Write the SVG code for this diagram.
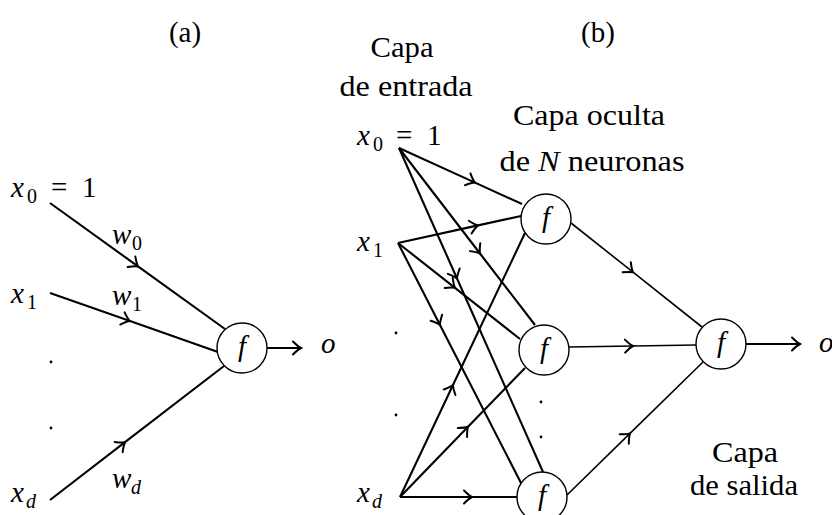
<svg xmlns="http://www.w3.org/2000/svg" width="832" height="515" viewBox="0 0 832 515">
<style>
.t{font-family:"Liberation Serif","Times New Roman",serif;font-size:29px;fill:#000}
.i{font-style:italic}
.s{font-size:20px}
.ln{fill:none;stroke:#000;stroke-width:2.1;marker-mid:url(#ah)}
.ln2{fill:none;stroke:#000;stroke-width:1.6;marker-mid:url(#ah)}
.out{fill:none;stroke:#000;stroke-width:2;marker-end:url(#ah)}
.nd{fill:#fff;stroke:#000;stroke-width:1.4}
.dot{fill:#000}
</style>
<defs>
<marker id="ah" markerUnits="userSpaceOnUse" markerWidth="20" markerHeight="20" viewBox="-10 -10 20 20" refX="0" refY="0" orient="auto" overflow="visible">
<path d="M-8,-6.5 Q-3,-1.5 0,0 Q-3,1.5 -8,6.5" fill="none" stroke="#000" stroke-width="2" stroke-linecap="round"/>
</marker>
</defs>
<text class="t" x="185" y="42" text-anchor="middle">(a)</text>
<text class="t" x="598" y="42" text-anchor="middle">(b)</text>
<g id="connectors">
<path class="ln" d="M50,203 L138,266.4 L225,329"/>
<path class="ln" d="M50,293 L130,321.1 L218,352"/>
<path class="ln" d="M50,500 L125,442.2 L224,366"/>
<path class="out" d="M267,348 L301,348"/>
<path class="ln" d="M399,148 L475,182.6 L522,204"/>
<path class="ln" d="M399,148 L480,253.5 L535,325"/>
<path class="ln" d="M399,148 L457,278.5 L543,472"/>
<path class="ln" d="M398,243 L478,225.4 L521,216"/>
<path class="ln" d="M398,243 L455,287.8 L520,339"/>
<path class="ln" d="M398,243 L440,324.9 L521,483"/>
<path class="ln" d="M400,497 L453,385 L525,233"/>
<path class="ln" d="M400,497 L468,426.8 L525,368"/>
<path class="ln" d="M400,497 L472,497 L517,497"/>
<path class="ln2" d="M571,223 L633,272.2 L702,327"/>
<path class="ln2" d="M569,347 L633,346 L696,345"/>
<path class="ln2" d="M567,495 L630,433.4 L703,362"/>
<path class="out" d="M746,344 L800,344"/>
</g>
<g id="a-x0"><text class="t i" x="11" y="197">x</text><text class="t s" x="27" y="203">0</text><text class="t" x="51" y="197">=</text><text class="t" x="82" y="197">1</text></g>
<g id="a-x1"><text class="t i" x="11" y="303">x</text><text class="t s" x="27" y="309">1</text></g>
<g id="a-xd"><text class="t i" x="11" y="502">x</text><text class="t s i" x="26" y="508">d</text></g>
<g id="a-dots"><circle class="dot" cx="51" cy="362" r="1.4"/><circle class="dot" cx="51" cy="428" r="1.4"/></g>
<g id="a-w0"><text class="t i" x="112" y="244">w</text><text class="t s" x="132" y="250">0</text></g>
<g id="a-w1"><text class="t i" x="112" y="305">w</text><text class="t s" x="132" y="311">1</text></g>
<g id="a-wd"><text class="t i" x="112" y="488">w</text><text class="t s i" x="131" y="494">d</text></g>
<g id="a-f"><circle class="nd" cx="242" cy="348" r="25"/><text class="t i" x="242" y="356" text-anchor="middle">f</text></g>
<g id="a-o"><text class="t i" x="321" y="353">o</text></g>
<g id="b-lbl-in"><text class="t" x="402" y="57" text-anchor="middle" textLength="63" lengthAdjust="spacingAndGlyphs">Capa</text><text class="t" x="406" y="96" text-anchor="middle" textLength="133" lengthAdjust="spacingAndGlyphs">de entrada</text></g>
<g id="b-lbl-hid"><text class="t" x="589" y="125" text-anchor="middle" textLength="152" lengthAdjust="spacingAndGlyphs">Capa oculta</text><text class="t" x="592" y="171" text-anchor="middle" textLength="185" lengthAdjust="spacingAndGlyphs">de <tspan class="i">N</tspan> neuronas</text></g>
<g id="b-lbl-out"><text class="t" x="745" y="462" text-anchor="middle" textLength="66" lengthAdjust="spacingAndGlyphs">Capa</text><text class="t" x="744" y="495" text-anchor="middle" textLength="108" lengthAdjust="spacingAndGlyphs">de salida</text></g>
<g id="b-x0"><text class="t i" x="357" y="145">x</text><text class="t s" x="373" y="151">0</text><text class="t" x="396" y="145">=</text><text class="t" x="427" y="145">1</text></g>
<g id="b-x1"><text class="t i" x="357" y="251">x</text><text class="t s" x="373" y="257">1</text></g>
<g id="b-xd"><text class="t i" x="357" y="502">x</text><text class="t s i" x="372" y="508">d</text></g>
<g id="b-dots"><circle class="dot" cx="396" cy="333" r="1.4"/><circle class="dot" cx="396" cy="415" r="1.4"/><circle class="dot" cx="541" cy="402" r="1.4"/><circle class="dot" cx="541" cy="437" r="1.4"/></g>
<g id="h1"><circle class="nd" cx="546" cy="219" r="25"/><text class="t i" x="546" y="227" text-anchor="middle">f</text></g>
<g id="h2"><circle class="nd" cx="544" cy="350" r="25"/><text class="t i" x="544" y="358" text-anchor="middle">f</text></g>
<g id="h3"><circle class="nd" cx="542" cy="497" r="25"/><text class="t i" x="542" y="505" text-anchor="middle">f</text></g>
<g id="out"><circle class="nd" cx="721" cy="344" r="25"/><text class="t i" x="721" y="352" text-anchor="middle">f</text></g>
<g id="b-o"><text class="t i" x="819" y="352">o</text></g>
</svg>
